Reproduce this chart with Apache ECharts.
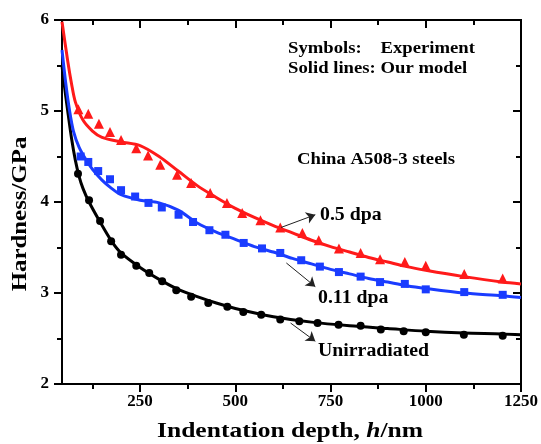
<!DOCTYPE html>
<html>
<head>
<meta charset="utf-8">
<script src="https://cdn.jsdelivr.net/npm/echarts@6/dist/echarts.min.js"></script>
<style>
html, body { margin: 0; padding: 0; background: #fff; }
#main { width: 541px; height: 444px; }
</style>
</head>
<body>
<div id="main"></div>
<script>
// 刻度
var xMajor = [250, 500, 750, 1000, 1250];
var xMinor = [125, 375, 625, 875, 1125];

// 实验点 [h(nm), H(GPa)]
var unirrExp = [[87, 4.31], [116, 4.02], [145, 3.79], [174, 3.57], [200, 3.42], [240, 3.30], [274, 3.22], [308, 3.13], [345, 3.03], [384, 2.96], [429, 2.89], [479, 2.85], [521, 2.79], [568, 2.76], [618, 2.71], [668, 2.69], [716, 2.67], [771, 2.65], [829, 2.64], [882, 2.60], [942, 2.58], [1000, 2.57], [1100, 2.54], [1202, 2.53]];
var dpa011Exp = [[94, 4.50], [114, 4.44], [140, 4.34], [171, 4.25], [200, 4.13], [237, 4.06], [272, 3.99], [307, 3.94], [351, 3.86], [389, 3.78], [432, 3.69], [474, 3.64], [522, 3.55], [570, 3.49], [618, 3.44], [673, 3.36], [722, 3.29], [772, 3.23], [829, 3.18], [880, 3.12], [945, 3.10], [1000, 3.04], [1101, 3.01], [1202, 2.98]];
var dpa05Exp = [[88, 5.02], [114, 4.97], [142, 4.86], [171, 4.77], [200, 4.68], [240, 4.59], [271, 4.51], [303, 4.41], [347, 4.30], [384, 4.21], [434, 4.10], [478, 3.99], [518, 3.88], [566, 3.80], [618, 3.72], [676, 3.66], [719, 3.58], [772, 3.49], [829, 3.44], [880, 3.37], [945, 3.34], [1000, 3.30], [1101, 3.21], [1202, 3.16]];

// 模型曲线
var unirrModel = [[45, 5.50], [50, 5.32], [60, 5.00], [70, 4.70], [80, 4.46], [90, 4.28], [100, 4.15], [116, 4.00], [145, 3.78], [175, 3.57], [200, 3.44], [250, 3.28], [300, 3.15], [350, 3.04], [400, 2.96], [450, 2.89], [500, 2.83], [600, 2.74], [700, 2.68], [800, 2.64], [900, 2.61], [1000, 2.58], [1100, 2.56], [1200, 2.55], [1250, 2.54]];
var dpa011Model = [[45, 5.67], [55, 5.30], [65, 5.00], [75, 4.78], [90, 4.60], [110, 4.45], [125, 4.36], [150, 4.24], [175, 4.15], [200, 4.08], [250, 4.02], [300, 3.99], [350, 3.91], [400, 3.77], [450, 3.67], [500, 3.59], [550, 3.51], [600, 3.45], [650, 3.38], [700, 3.32], [750, 3.26], [800, 3.21], [850, 3.16], [900, 3.12], [950, 3.08], [1000, 3.05], [1100, 3.00], [1200, 2.97], [1250, 2.95]];
var dpa05Model = [[45, 5.98], [60, 5.55], [70, 5.30], [80, 5.10], [100, 4.90], [125, 4.78], [150, 4.71], [200, 4.66], [250, 4.62], [300, 4.50], [350, 4.34], [400, 4.18], [450, 4.05], [500, 3.93], [550, 3.83], [600, 3.74], [650, 3.66], [700, 3.58], [750, 3.51], [800, 3.45], [850, 3.39], [900, 3.34], [950, 3.29], [1000, 3.25], [1100, 3.18], [1200, 3.12], [1250, 3.10]];

// 箭头 [起点, 终点]
var arrow05 = [[620, 3.72], [710, 3.86]];
var arrow011 = [[634, 3.33], [710, 3.07]];
var arrowUnirr = [[645, 2.67], [710, 2.47]];

var fontFamily = 'Liberation Serif, Times New Roman, serif';
var RED = '#ff1a1a', BLUE = '#1a3cff', BLACK = '#000';

function xAxisCfg(pos, ticks, len, inside, showLabel, showLine) {
    return {
        type: 'value', position: pos, min: 45, max: 1250,
        axisLine: { show: showLine, onZero: false, lineStyle: { color: '#000', width: 2 } },
        axisTick: { show: true, inside: inside, length: len, customValues: ticks, lineStyle: { color: '#000', width: 2 } },
        axisLabel: {
            show: showLabel, customValues: xMajor, color: '#000', fontFamily: fontFamily, fontWeight: 'bold', fontSize: 17, margin: 9,
            formatter: function (v) { return String(v); }
        },
        splitLine: { show: false }
    };
}
function yAxisCfg(pos, inside, showLabel) {
    return {
        type: 'value', position: pos, min: 2, max: 6, interval: 1,
        axisLine: { show: true, onZero: false, lineStyle: { color: '#000', width: 2 } },
        axisTick: { show: true, inside: inside, length: 8, lineStyle: { color: '#000', width: 2 } },
        minorTick: { show: true, splitNumber: 2, length: 5, lineStyle: { color: '#000', width: 2 } },
        axisLabel: { show: showLabel, color: '#000', fontFamily: fontFamily, fontWeight: 'bold', fontSize: 17, margin: 13 },
        splitLine: { show: false }
    };
}
function arrowLine(pts) {
    return [{ coord: pts[0] }, { coord: pts[1] }];
}
function note(text, x, y, size) {
    return {
        type: 'text', x: x, y: y, scaleX: 1.1, z: 10,
        style: { text: text, fill: '#000', font: 'bold ' + size + 'px ' + fontFamily, align: 'left', verticalAlign: 'middle' }
    };
}

var myChart = echarts.init(document.getElementById('main'));
var option = {
    backgroundColor: '#fff',
    animation: false,
    grid: { left: 62, right: 20, top: 20, bottom: 60, show: true, borderColor: '#000', borderWidth: 2, backgroundColor: 'transparent' },
    xAxis: [
        xAxisCfg('bottom', xMajor, 8, false, true, true),
        xAxisCfg('bottom', xMinor, 5, false, false, false),
        xAxisCfg('top', xMajor, 8, true, false, true),
        xAxisCfg('top', xMinor, 5, true, false, false)
    ],
    yAxis: [
        yAxisCfg('left', false, true),
        yAxisCfg('right', true, false)
    ],
    graphic: [
        note('Symbols:    Experiment', 288, 49, 17),
        note('Solid lines: Our model', 288, 69, 17),
        note('China A508-3 steels', 297, 160, 17),
        note('0.5 dpa', 320, 215, 18),
        note('0.11 dpa', 318, 298, 18),
        note('Unirradiated', 318, 351, 18),
        {
            type: 'text', x: 20, y: 214, rotation: Math.PI / 2, scaleX: 1.13, z: 10,
            style: { text: 'Hardness/GPa', fill: '#000', font: 'bold 22px ' + fontFamily, align: 'center', verticalAlign: 'middle' }
        },
        {
            type: 'text', x: 290, y: 431, scaleX: 1.16, z: 10,
            style: {
                text: '{b|Indentation depth, }{i|h}{b|/nm}', align: 'center', verticalAlign: 'middle',
                rich: {
                    b: { fill: '#000', fontFamily: fontFamily, fontWeight: 'bold', fontSize: 22 },
                    i: { fill: '#000', fontFamily: fontFamily, fontWeight: 'bold', fontStyle: 'italic', fontSize: 22 }
                }
            }
        }
    ],
    series: [
        {
            name: 'unirr model', type: 'line', data: unirrModel, smooth: 0.3, showSymbol: false,
            lineStyle: { color: BLACK, width: 3 }, z: 2,
            markLine: {
                silent: true, symbol: ['none', 'arrow'], symbolSize: 9,
                lineStyle: { color: '#222', width: 1, type: 'solid' }, label: { show: false },
                data: [arrowLine(arrow05), arrowLine(arrow011), arrowLine(arrowUnirr)]
            }
        },
        { name: '0.11 model', type: 'line', data: dpa011Model, smooth: 0.3, showSymbol: false, lineStyle: { color: BLUE, width: 3 }, z: 2 },
        { name: '0.5 model', type: 'line', data: dpa05Model, smooth: 0.3, showSymbol: false, lineStyle: { color: RED, width: 3 }, z: 2 },
        { name: 'unirr exp', type: 'scatter', data: unirrExp, symbol: 'circle', symbolSize: 8, itemStyle: { color: BLACK, opacity: 1 }, z: 3 },
        { name: '0.11 exp', type: 'scatter', data: dpa011Exp, symbol: 'rect', symbolSize: 8, itemStyle: { color: BLUE, opacity: 1 }, z: 3 },
        { name: '0.5 exp', type: 'scatter', data: dpa05Exp, symbol: 'triangle', symbolSize: 10, itemStyle: { color: RED, opacity: 1 }, z: 3 }
    ]
};
myChart.setOption(option);
</script>
</body>
</html>
